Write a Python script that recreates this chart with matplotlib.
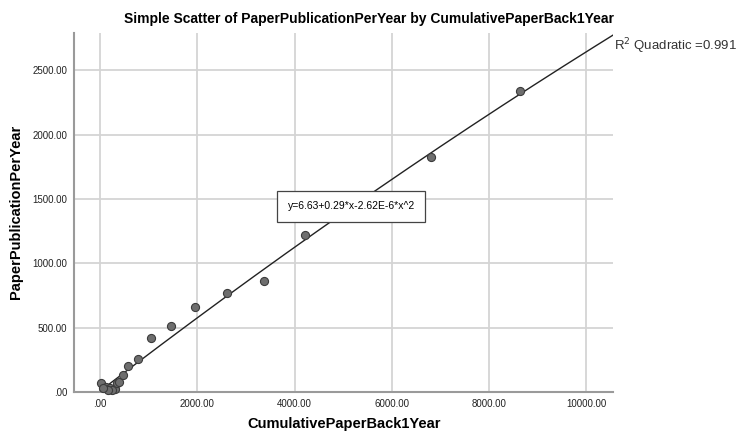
import numpy as np
import matplotlib
matplotlib.use("Agg")
import matplotlib.pyplot as plt

plt.rcParams['font.family'] = ['Liberation Sans Narrow', 'Liberation Sans', 'DejaVu Sans']

# Puntos
cum_back_1year = [14, 123, 206, 308, 343, 391, 250, 170, 60, 466, 582, 781, 1042,
                  1452, 1959, 2612, 3363, 4220, 6803, 8635]
paper_per_year = [72, 41, 28, 21, 67, 80, 12, 15, 30, 131, 203, 253, 423,
                  513, 660, 768, 863, 1224, 1830, 2343]

# Coeficientes del ajuste cuadratico (SPSS)
b0, b1, b2 = 6.63, 0.29, -2.62e-6
r2_label = "R$^2$ Quadratic =0.991"
eq_label = "y=6.63+0.29*x-2.62E-6*x^2"

x_ticks = [0, 2000, 4000, 6000, 8000, 10000]
y_ticks = [0, 500, 1000, 1500, 2000, 2500]
x_lim = (-534, 10545)
y_lim = (0, 2790)

fig = plt.figure(figsize=(7.42, 4.33), dpi=100)
ax = fig.add_axes([0.0997, 0.0947, 0.7263, 0.829])

ax.set_xlim(*x_lim)
ax.set_ylim(*y_lim)
ax.set_xticks(x_ticks)
ax.set_yticks(y_ticks)
ax.set_xticklabels(["%.2f" % v if v else ".00" for v in x_ticks])
ax.set_yticklabels(["%.2f" % v if v else ".00" for v in y_ticks])
ax.tick_params(length=0, labelsize=7, colors="#222222", pad=5)

ax.grid(True, color="#d4d4d4", linewidth=1.3)
ax.set_axisbelow(True)
for s in ["top", "right"]:
    ax.spines[s].set_visible(False)
for s in ["left", "bottom"]:
    ax.spines[s].set_color("#9a9a9a")
    ax.spines[s].set_linewidth(1.5)

# Linea de ajuste
xs = np.linspace(0, x_lim[1], 200)
ax.plot(xs, b0 + b1 * xs + b2 * xs ** 2, color="#222222", linewidth=1.0, zorder=2)

ax.scatter(cum_back_1year, paper_per_year, s=34, facecolor="#6e6e6e",
           edgecolor="#3c3c3c", linewidth=0.8, zorder=3, clip_on=False)

ax.text(3860, 1445, eq_label, fontsize=7.5, ha="left", va="center",
        bbox=dict(boxstyle="square,pad=1.0", facecolor="white", edgecolor="#444444", linewidth=0.9),
        zorder=4)

fig.text(0.8275, 0.893, r2_label, fontsize=9.5, ha="left", va="center", color="#333333")

fig.text(0.497, 0.957, "Simple Scatter of PaperPublicationPerYear by CumulativePaperBack1Year",
         fontsize=10, fontweight="bold", ha="center", va="center")
fig.text(0.4636, 0.021, "CumulativePaperBack1Year", fontsize=10.5, fontweight="bold",
         ha="center", va="center")
fig.text(0.021, 0.51, "PaperPublicationPerYear", fontsize=10.5, fontweight="bold",
         ha="center", va="center", rotation=90)

plt.savefig("out.png", dpi=100)
